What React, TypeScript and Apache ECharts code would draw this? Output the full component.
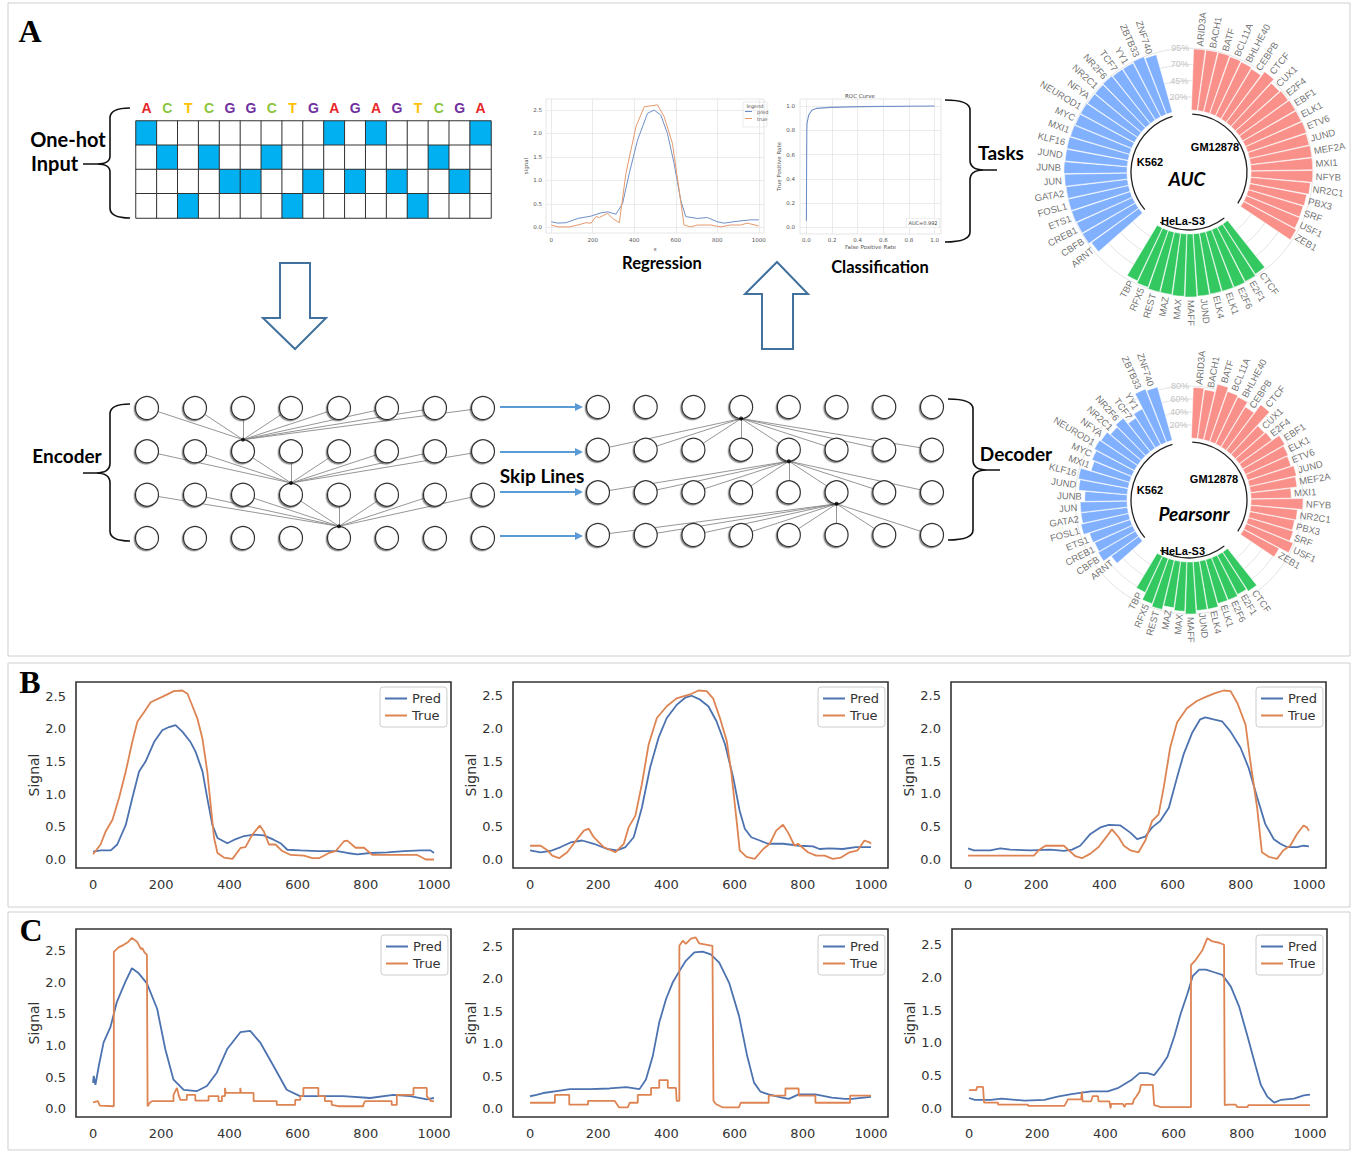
import React, { useEffect, useRef } from "react";
import * as echarts from "echarts";

const W = 1353;
const H = 1152;

// ---------------- Panel A : one-hot input ----------------
const SEQUENCE = ["A", "C", "T", "C", "G", "G", "C", "T", "G", "A", "G", "A", "G", "T", "C", "G", "A"];
const BASES = ["A", "C", "G", "T"];
const BASE_COLORS = { A: "#e8262a", C: "#8cc63f", G: "#7030a0", T: "#ffc000" };

// ---------------- Panel A : mini regression / ROC ----------------
const REG_PRED = [[0, 0.12], [32, 0.09], [72, 0.1], [128, 0.19], [192, 0.24], [240, 0.31], [272, 0.33], [312, 0.28], [344, 0.51], [376, 1.15], [416, 1.86], [464, 2.43], [496, 2.5], [528, 2.39], [560, 2.0], [592, 1.36], [624, 0.58], [648, 0.23], [704, 0.19], [752, 0.21], [800, 0.12], [832, 0.09], [896, 0.13], [960, 0.16], [1000, 0.16]];
const REG_TRUE = [[0, 0.05], [32, 0.01], [88, 0.01], [128, 0.05], [168, 0.1], [192, 0.09], [216, 0.23], [232, 0.21], [272, 0.3], [296, 0.19], [328, 0.1], [360, 1.15], [408, 2.14], [448, 2.57], [480, 2.59], [512, 2.61], [544, 2.36], [584, 1.79], [616, 0.8], [640, 0.05], [672, 0.01], [704, 0.05], [768, 0.05], [816, 0.01], [864, 0.05], [912, 0.05], [944, 0.09], [1000, 0.03]];
const ROC_CURVE = [[0, 0.055], [0.001, 0.4], [0.003, 0.8], [0.005, 0.86], [0.018, 0.926], [0.044, 0.967], [0.083, 0.981], [0.187, 0.989], [0.42, 0.995], [1, 1.0]];
const ROC_TICKS = [0, 0.2, 0.4, 0.6, 0.8, 1.0];

// ---------------- Panel A : circular bar charts ----------------
const GM_NAMES = ["ARID3A", "BACH1", "BATF", "BCL11A", "BHLHE40", "CEBPB", "CTCF", "CUX1", "E2F4", "EBF1", "ELK1", "ETV6", "JUND", "MEF2A", "MXI1", "NFYB", "NR2C1", "PBX3", "SRF", "USF1", "ZEB1"];
const HELA_NAMES = ["CTCF", "E2F1", "E2F6", "ELK1", "ELK4", "JUND", "MAFF", "MAX", "MAZ", "REST", "RFX5", "TBP"];
const K562_NAMES = ["ARNT", "CBFB", "CREB1", "ETS1", "FOSL1", "GATA2", "JUN", "JUNB", "JUND", "KLF16", "MXI1", "MYC", "NEUROD1", "NFYA", "NR2C1", "NR2F6", "TCF7", "YY1", "ZBTB33", "ZNF740"];
const GROUP_NAMES = ["GM12878", "HeLa-S3", "K562"];

const GM_AUC = [94, 94, 94, 93, 92, 90, 98, 91, 93, 94, 94, 95, 94, 95, 95, 95, 92, 89, 88, 89, 92];
const HELA_AUC = [92, 94, 95, 95, 95, 96, 97, 96, 95, 95, 93, 90];
const K562_AUC = [90, 94, 94, 95, 95, 95, 96, 97, 96, 96, 95, 94, 94, 93, 93, 94, 93, 93, 95, 92];
const AUC_TICKS = [20, 45, 70, 95];

const GM_PEARSON = [78, 76, 88, 82, 80, 72, 88, 60, 62, 75, 72, 70, 74, 72, 62, 80, 72, 70, 72, 78, 62];
const HELA_PEARSON = [72, 68, 70, 70, 75, 75, 80, 76, 72, 78, 74, 62];
const K562_PEARSON = [52, 66, 64, 66, 75, 72, 72, 65, 75, 78, 62, 66, 70, 68, 62, 66, 55, 62, 88, 85];
const PEARSON_TICKS = [20, 40, 60, 80];

// ---------------- Panel A : network ----------------
const NET_COLS = 8;
const NET_ROWS = 4;
const ENC_HUBS = [2, 3, 4]; // column of the node in row r+1 that collects row r
const DEC_HUBS = [3, 4, 5]; // column of the node in row r that feeds row r+1

// ---------------- Panels B & C ----------------
const X_TICKS = [0, 200, 400, 600, 800, 1000];
const SIGNAL_TICKS = [0, 0.5, 1, 1.5, 2, 2.5];

const B1_PRED = [[0, 0.12], [22, 0.14], [52, 0.14], [71, 0.23], [96, 0.53], [115, 0.94], [135, 1.35], [154, 1.5], [179, 1.8], [203, 1.98], [223, 2.03], [242, 2.06], [262, 1.96], [286, 1.8], [301, 1.65], [321, 1.35], [335, 0.94], [350, 0.53], [365, 0.33], [394, 0.25], [413, 0.3], [443, 0.36], [472, 0.38], [501, 0.37], [531, 0.3], [550, 0.25], [570, 0.15], [609, 0.14], [658, 0.13], [717, 0.13], [746, 0.1], [775, 0.08], [814, 0.1], [863, 0.11], [912, 0.13], [961, 0.14], [990, 0.14], [1000, 0.1]];
const B1_TRUE = [[0, 0.08], [22, 0.23], [37, 0.43], [57, 0.61], [76, 0.94], [96, 1.35], [115, 1.8], [130, 2.11], [150, 2.26], [169, 2.41], [198, 2.48], [218, 2.53], [237, 2.58], [262, 2.59], [277, 2.54], [291, 2.36], [306, 2.16], [321, 1.85], [335, 1.35], [345, 0.84], [355, 0.33], [365, 0.1], [384, 0.03], [409, 0.01], [433, 0.18], [447, 0.19], [467, 0.38], [489, 0.52], [501, 0.43], [516, 0.23], [535, 0.23], [555, 0.13], [580, 0.07], [619, 0.06], [643, 0.02], [663, 0.02], [692, 0.1], [712, 0.13], [736, 0.28], [746, 0.29], [770, 0.18], [795, 0.18], [819, 0.07], [883, 0.07], [951, 0.07], [976, 0.0], [1000, 0.0]];

const B2_PRED = [[0, 0.14], [31, 0.11], [60, 0.13], [90, 0.19], [119, 0.26], [153, 0.29], [187, 0.24], [226, 0.16], [255, 0.14], [280, 0.19], [304, 0.34], [328, 0.79], [352, 1.4], [377, 1.86], [401, 2.16], [430, 2.36], [455, 2.47], [474, 2.5], [499, 2.44], [523, 2.34], [547, 2.11], [572, 1.76], [596, 1.25], [615, 0.74], [630, 0.47], [649, 0.34], [674, 0.29], [698, 0.24], [742, 0.24], [791, 0.21], [830, 0.2], [849, 0.16], [878, 0.17], [917, 0.16], [956, 0.19], [985, 0.19], [1000, 0.19]];
const B2_TRUE = [[0, 0.21], [31, 0.21], [51, 0.14], [65, 0.06], [85, 0.02], [109, 0.11], [138, 0.31], [158, 0.44], [172, 0.47], [187, 0.34], [216, 0.19], [250, 0.11], [275, 0.24], [289, 0.49], [309, 0.67], [328, 1.15], [348, 1.76], [372, 2.16], [401, 2.34], [430, 2.46], [469, 2.52], [494, 2.58], [518, 2.57], [537, 2.46], [557, 2.16], [577, 1.81], [591, 1.3], [606, 0.59], [615, 0.14], [635, 0.04], [659, 0.01], [684, 0.16], [703, 0.24], [722, 0.44], [742, 0.53], [757, 0.41], [776, 0.21], [786, 0.24], [815, 0.11], [839, 0.06], [864, 0.06], [888, 0.01], [912, 0.03], [937, 0.11], [961, 0.14], [981, 0.29], [996, 0.26], [1000, 0.24]];

const B3_PRED = [[0, 0.17], [17, 0.14], [65, 0.14], [95, 0.17], [124, 0.15], [183, 0.14], [241, 0.15], [281, 0.13], [305, 0.15], [329, 0.21], [359, 0.39], [388, 0.49], [413, 0.53], [447, 0.52], [476, 0.41], [496, 0.31], [520, 0.35], [540, 0.49], [564, 0.59], [589, 0.79], [613, 1.25], [632, 1.6], [657, 1.93], [681, 2.14], [696, 2.17], [720, 2.14], [745, 2.11], [769, 1.96], [799, 1.71], [823, 1.4], [848, 0.95], [872, 0.54], [897, 0.31], [916, 0.24], [935, 0.19], [965, 0.19], [984, 0.21], [1000, 0.2]];
const B3_TRUE = [[0, 0.06], [193, 0.06], [207, 0.14], [227, 0.21], [281, 0.21], [296, 0.14], [315, 0.05], [334, 0.02], [359, 0.09], [383, 0.19], [408, 0.36], [422, 0.46], [442, 0.34], [457, 0.21], [476, 0.14], [500, 0.11], [520, 0.29], [540, 0.59], [559, 0.69], [574, 1.1], [593, 1.71], [613, 2.09], [642, 2.31], [671, 2.42], [701, 2.49], [725, 2.54], [750, 2.58], [770, 2.57], [790, 2.39], [814, 2.06], [828, 1.5], [848, 0.79], [862, 0.11], [882, 0.04], [906, 0.01], [925, 0.14], [945, 0.21], [965, 0.39], [984, 0.52], [994, 0.49], [1000, 0.44]];

const C1_PRED = [[0, 0.41], [2, 0.52], [7, 0.38], [17, 0.68], [31, 1.05], [51, 1.29], [70, 1.69], [95, 2.01], [114, 2.22], [134, 2.14], [158, 1.98], [188, 1.58], [212, 0.94], [236, 0.46], [266, 0.3], [305, 0.28], [334, 0.36], [363, 0.57], [393, 0.94], [432, 1.21], [461, 1.23], [490, 1.05], [529, 0.68], [568, 0.3], [607, 0.2], [656, 0.2], [734, 0.2], [813, 0.17], [881, 0.22], [930, 0.2], [979, 0.15], [1000, 0.17]];
const C1_TRUE = [[0, 0.1], [14, 0.12], [20, 0.05], [61, 0.04], [61, 2.48], [75, 2.55], [90, 2.59], [104, 2.64], [114, 2.7], [129, 2.64], [136, 2.57], [141, 2.52], [144, 2.54], [150, 2.48], [158, 2.43], [160, 0.04], [167, 0.1], [173, 0.12], [236, 0.12], [236, 0.22], [246, 0.33], [251, 0.22], [256, 0.14], [275, 0.14], [275, 0.22], [300, 0.22], [300, 0.13], [339, 0.13], [339, 0.2], [368, 0.2], [368, 0.12], [378, 0.12], [378, 0.2], [387, 0.2], [387, 0.33], [389, 0.25], [432, 0.25], [432, 0.33], [434, 0.25], [471, 0.25], [471, 0.12], [539, 0.12], [539, 0.06], [593, 0.06], [593, 0.14], [608, 0.14], [608, 0.2], [617, 0.2], [617, 0.33], [661, 0.33], [661, 0.2], [680, 0.2], [680, 0.12], [700, 0.12], [700, 0.06], [720, 0.04], [793, 0.04], [793, 0.07], [798, 0.12], [876, 0.12], [876, 0.06], [891, 0.06], [891, 0.22], [940, 0.22], [940, 0.33], [979, 0.33], [979, 0.2], [991, 0.12], [1000, 0.12]];

const C2_PRED = [[0, 0.19], [19, 0.21], [39, 0.24], [78, 0.27], [117, 0.3], [175, 0.3], [233, 0.31], [282, 0.33], [321, 0.3], [340, 0.45], [360, 0.81], [379, 1.33], [399, 1.69], [418, 1.94], [438, 2.12], [457, 2.28], [482, 2.41], [506, 2.42], [530, 2.38], [555, 2.25], [584, 1.94], [613, 1.43], [637, 0.81], [657, 0.4], [676, 0.26], [700, 0.22], [739, 0.17], [759, 0.15], [788, 0.22], [837, 0.22], [885, 0.17], [924, 0.15], [944, 0.15], [1000, 0.18]];
const C2_TRUE = [[0, 0.09], [73, 0.09], [73, 0.21], [115, 0.21], [115, 0.06], [170, 0.06], [170, 0.12], [248, 0.12], [261, 0.02], [287, 0.02], [292, 0.09], [316, 0.09], [316, 0.21], [355, 0.21], [355, 0.32], [379, 0.32], [379, 0.44], [404, 0.44], [404, 0.32], [428, 0.32], [430, 0.12], [438, 0.12], [438, 2.51], [448, 2.59], [457, 2.54], [472, 2.62], [486, 2.64], [496, 2.55], [535, 2.51], [538, 0.12], [545, 0.07], [564, 0.02], [613, 0.02], [618, 0.09], [700, 0.09], [700, 0.2], [749, 0.2], [749, 0.31], [788, 0.31], [788, 0.2], [837, 0.2], [837, 0.09], [939, 0.09], [939, 0.2], [1000, 0.2]];

const C3_PRED = [[0, 0.16], [17, 0.13], [65, 0.13], [95, 0.15], [163, 0.12], [221, 0.13], [260, 0.18], [300, 0.22], [358, 0.26], [407, 0.26], [436, 0.31], [475, 0.43], [500, 0.54], [524, 0.54], [543, 0.51], [563, 0.64], [582, 0.79], [602, 1.1], [621, 1.45], [641, 1.76], [656, 2.02], [675, 2.12], [695, 2.12], [719, 2.08], [743, 2.04], [768, 1.86], [792, 1.56], [817, 1.1], [841, 0.64], [856, 0.36], [875, 0.18], [895, 0.09], [914, 0.13], [953, 0.15], [982, 0.2], [1000, 0.21]];
const C3_TRUE = [[0, 0.28], [21, 0.28], [24, 0.33], [41, 0.33], [44, 0.09], [85, 0.09], [85, 0.06], [173, 0.06], [173, 0.04], [280, 0.04], [290, 0.14], [329, 0.14], [331, 0.26], [333, 0.11], [358, 0.11], [363, 0.19], [378, 0.19], [380, 0.11], [412, 0.11], [415, 0.0], [417, 0.07], [451, 0.07], [456, 0.02], [460, 0.07], [480, 0.07], [483, 0.13], [490, 0.18], [500, 0.26], [504, 0.36], [539, 0.36], [543, 0.05], [563, 0.02], [651, 0.02], [651, 2.19], [665, 2.27], [685, 2.42], [699, 2.6], [714, 2.55], [734, 2.53], [748, 2.5], [750, 0.05], [758, 0.06], [782, 0.06], [787, 0.02], [817, 0.02], [819, 0.05], [1000, 0.05]];

// ---------------- styling / layout ----------------
const BLUE = "#4c72b0";
const ORANGE = "#dd8452";
const GROUP_COLORS = ["#f9918a", "#33c860", "#81b0ff"];
const FONT_MPL = "DejaVu Sans";
const FONT_BOLD = "Lato";
const FONT_SANS = "Liberation Sans";

const LINE_PANELS = [
  { pred: B1_PRED, truth: B1_TRUE, box: [76, 682, 451, 868], yMax: 2.72, legend: [380, 687] },
  { pred: B2_PRED, truth: B2_TRUE, box: [513, 682, 888, 868], yMax: 2.71, legend: [818, 687] },
  { pred: B3_PRED, truth: B3_TRUE, box: [951, 682, 1326, 868], yMax: 2.71, legend: [1256, 687] },
  { pred: C1_PRED, truth: C1_TRUE, box: [76, 929, 451, 1117], yMax: 2.84, legend: [381, 935] },
  { pred: C2_PRED, truth: C2_TRUE, box: [513, 929, 888, 1117], yMax: 2.77, legend: [818, 935] },
  { pred: C3_PRED, truth: C3_TRUE, box: [952, 929, 1327, 1117], yMax: 2.74, legend: [1256, 935] },
];

const GAP_SLOTS = 3;
const START_ANGLE = 88;
const POLARS = [
  { center: [1189, 172], values: [GM_AUC, HELA_AUC, K562_AUC], ticks: AUC_TICKS, title: "AUC", titlePos: [1187, 178], groupPos: [[1215, 147], [1183, 221], [1150, 162]] },
  { center: [1189, 500], values: [GM_PEARSON, HELA_PEARSON, K562_PEARSON], ticks: PEARSON_TICKS, title: "Pearsonr", titlePos: [1194, 513], groupPos: [[1214, 479], [1183, 551], [1150, 490]] },
];

const BRACES = [
  { name: "braceOneHot", d: "M130,108 Q110,108 110,118 L110,156 Q110,164 97,164 L83,164 M97,164 Q110,164 110,172 L110,208 Q110,218 130,218" },
  { name: "braceEncoder", d: "M130,404 Q110,404 110,414 L110,463 Q110,473 96,473 L83,473 M96,473 Q110,473 110,483 L110,531 Q110,541 130,541" },
  { name: "braceTasks", d: "M945,100 Q970,100 970,110 L970,160 Q970,170 984,170 L997,170 M984,170 Q970,170 970,180 L970,232 Q970,242 945,242" },
  { name: "braceDecoder", d: "M948,399 Q973,399 973,409 L973,460 Q973,470 987,470 L1000,470 M987,470 Q973,470 973,480 L973,530 Q973,540 948,540" },
];

let shapesRegistered = false;
function registerShapes() {
  if (shapesRegistered) return;
  shapesRegistered = true;
  BRACES.forEach((b) => {
    echarts.graphic.registerShape(b.name, echarts.graphic.extendPath(b.d, {}));
  });
}

function txt(text: string, x: number, y: number, o: any = {}) {
  return {
    type: "text",
    x,
    y,
    silent: true,
    z: 10,
    style: { text, fill: "#000", fontFamily: FONT_BOLD, fontSize: 19, fontWeight: "bold", align: "center", verticalAlign: "middle", ...o },
  };
}

const intLabel = (v: number) => String(v);

function buildOption() {
  const grid: any[] = [];
  const xAxis: any[] = [];
  const yAxis: any[] = [];
  const series: any[] = [];
  const legend: any[] = [];
  const graphic: any[] = [];
  const visualMap: any[] = [];
  const polar: any[] = [];
  const angleAxis: any[] = [];
  const radiusAxis: any[] = [];

  // ---------- B & C line panels ----------
  LINE_PANELS.forEach((p) => {
    const [l, t, r, b] = p.box;
    grid.push({ left: l, top: t, width: r - l, height: b - t, show: true, borderColor: "#333", borderWidth: 1.6, backgroundColor: "transparent" });
    const gi = grid.length - 1;
    xAxis.push({
      gridIndex: gi, type: "value", min: -50, max: 1050,
      axisLine: { show: false }, axisTick: { show: false, customValues: X_TICKS }, splitLine: { show: false },
      axisLabel: { customValues: X_TICKS, formatter: intLabel, color: "#333", fontSize: 13, margin: 10, fontFamily: FONT_MPL },
    });
    yAxis.push({
      gridIndex: gi, type: "value", min: -0.13, max: p.yMax,
      axisLine: { show: false }, axisTick: { show: false, customValues: SIGNAL_TICKS }, splitLine: { show: false },
      axisLabel: { customValues: SIGNAL_TICKS, formatter: (v: number) => v.toFixed(1), color: "#333", fontSize: 13, margin: 10, fontFamily: FONT_MPL },
      name: "Signal", nameLocation: "middle", nameGap: 33,
      nameTextStyle: { fontSize: 14, color: "#333", fontFamily: FONT_MPL },
    });
    series.push({ type: "line", name: "Pred", xAxisIndex: gi, yAxisIndex: gi, data: p.pred, symbol: "none", lineStyle: { color: BLUE, width: 1.8 }, itemStyle: { color: BLUE }, silent: true });
    series.push({ type: "line", name: "True", xAxisIndex: gi, yAxisIndex: gi, data: p.truth, symbol: "none", lineStyle: { color: ORANGE, width: 1.8 }, itemStyle: { color: ORANGE }, silent: true });
    legend.push({
      left: p.legend[0], top: p.legend[1], orient: "vertical", data: ["Pred", "True"],
      icon: "rect", itemWidth: 22, itemHeight: 2, itemGap: 4, padding: [5, 6, 5, 5],
      borderColor: "#cccccc", borderWidth: 1, borderRadius: 3, backgroundColor: "#fff",
      textStyle: { fontSize: 13, color: "#333", fontFamily: FONT_MPL, lineHeight: 13 }, selectedMode: false,
    });
  });

  // ---------- mini regression ----------
  grid.push({ left: 546, top: 99, width: 218, height: 134, show: true, borderColor: "#e0e0e0", borderWidth: 0.8, backgroundColor: "transparent" });
  let gi = grid.length - 1;
  const tinyLabel = { color: "#555", fontSize: 5.5, fontFamily: FONT_MPL };
  xAxis.push({
    gridIndex: gi, type: "value", min: -25, max: 1025, axisLine: { show: false },
    axisTick: { show: false, customValues: X_TICKS },
    splitLine: { show: true, lineStyle: { color: "#e6e6e6", width: 0.8 } },
    axisLabel: { customValues: X_TICKS, formatter: intLabel, margin: 4, ...tinyLabel },
    name: "x", nameLocation: "middle", nameGap: 13, nameTextStyle: tinyLabel,
  });
  yAxis.push({
    gridIndex: gi, type: "value", min: -0.12, max: 2.735, axisLine: { show: false },
    axisTick: { show: false, customValues: SIGNAL_TICKS },
    splitLine: { show: true, lineStyle: { color: "#e6e6e6", width: 0.8 } },
    axisLabel: { customValues: SIGNAL_TICKS, formatter: (v: number) => v.toFixed(1), margin: 4, ...tinyLabel },
    name: "signal", nameLocation: "middle", nameGap: 13, nameTextStyle: tinyLabel,
  });
  series.push({ type: "line", name: "pred", xAxisIndex: gi, yAxisIndex: gi, data: REG_PRED, symbol: "none", lineStyle: { color: "#6f8fc7", width: 1 }, itemStyle: { color: "#6f8fc7" }, silent: true });
  series.push({ type: "line", name: "true", xAxisIndex: gi, yAxisIndex: gi, data: REG_TRUE, symbol: "none", lineStyle: { color: "#e59a6c", width: 1 }, itemStyle: { color: "#e59a6c" }, silent: true });
  legend.push({
    left: 745, top: 109, orient: "vertical", data: ["pred", "true"], icon: "rect", itemWidth: 7, itemHeight: 1, itemGap: 2,
    padding: 0, textStyle: { fontSize: 5, color: "#555", fontFamily: FONT_MPL }, selectedMode: false,
  });
  graphic.push({ type: "rect", shape: { x: 743, y: 102, width: 24, height: 25, r: 1 }, style: { fill: "#fff", stroke: "#dddddd", lineWidth: 0.6 }, z: -1, silent: true });
  graphic.push(txt("legend", 755, 105.5, { fontSize: 5, fontWeight: "normal", fill: "#555", fontFamily: FONT_MPL }));

  // ---------- ROC ----------
  grid.push({ left: 800, top: 99, width: 141, height: 135, show: true, borderColor: "#e0e0e0", borderWidth: 0.8, backgroundColor: "transparent" });
  gi = grid.length - 1;
  xAxis.push({
    gridIndex: gi, type: "value", min: -0.05, max: 1.05, axisLine: { show: false },
    axisTick: { show: false, customValues: ROC_TICKS },
    splitLine: { show: true, lineStyle: { color: "#e6e6e6", width: 0.8 } },
    axisLabel: { customValues: ROC_TICKS, formatter: (v: number) => v.toFixed(1), margin: 3, ...tinyLabel },
    name: "False Positive Rate", nameLocation: "middle", nameGap: 8, nameTextStyle: tinyLabel,
  });
  yAxis.push({
    gridIndex: gi, type: "value", min: -0.055, max: 1.058, axisLine: { show: false },
    axisTick: { show: false, customValues: ROC_TICKS },
    splitLine: { show: true, lineStyle: { color: "#e6e6e6", width: 0.8 } },
    axisLabel: { customValues: ROC_TICKS, formatter: (v: number) => v.toFixed(1), margin: 5, ...tinyLabel },
    name: "True Positive Rate", nameLocation: "middle", nameGap: 15, nameTextStyle: tinyLabel,
  });
  series.push({ type: "line", name: "roc", xAxisIndex: gi, yAxisIndex: gi, data: ROC_CURVE, symbol: "none", lineStyle: { color: "#6f8fc7", width: 1.1 }, silent: true });
  graphic.push(txt("ROC Curve", 860, 95.5, { fontSize: 5.5, fontWeight: "normal", fill: "#444", fontFamily: FONT_MPL }));
  graphic.push({
    type: "text", x: 923, y: 223, silent: true, z: 10,
    style: { text: "AUC=0.992", fontSize: 5, fill: "#444", fontFamily: FONT_MPL, align: "center", verticalAlign: "middle", backgroundColor: "#fff", borderColor: "#dddddd", borderWidth: 0.6, padding: [2, 2] },
  });

  // ---------- one-hot heatmap ----------
  grid.push({ left: 136, top: 121, width: 355, height: 97 });
  gi = grid.length - 1;
  const rich: any = {};
  Object.keys(BASE_COLORS).forEach((k) => (rich[k] = { color: (BASE_COLORS as any)[k], fontSize: 14, fontWeight: "bold", fontFamily: FONT_SANS }));
  xAxis.push({
    gridIndex: gi, type: "category", data: SEQUENCE, position: "top",
    axisLine: { show: false }, axisTick: { show: false }, splitLine: { show: false },
    axisLabel: { interval: 0, margin: 6, formatter: (v: string) => `{${v}|${v}}`, rich },
  });
  yAxis.push({ gridIndex: gi, type: "category", data: BASES, inverse: true, show: false });
  const hmData: any[] = [];
  SEQUENCE.forEach((b, c) => BASES.forEach((base, r) => hmData.push([c, r, b === base ? 1 : 0])));
  series.push({ type: "heatmap", xAxisIndex: gi, yAxisIndex: gi, data: hmData, itemStyle: { borderColor: "#333", borderWidth: 1 }, emphasis: { disabled: true }, silent: true });
  visualMap.push({ type: "piecewise", show: false, seriesIndex: series.length - 1, dimension: 2, pieces: [{ value: 1, color: "#00b0f0" }, { value: 0, color: "#ffffff" }] });

  // ---------- networks ----------
  const HUB_OFF = 0.27;
  const nets = [
    { box: [147, 408, 483, 538], enc: true },
    { box: [598, 407, 932, 535], enc: false },
  ];
  nets.forEach((n) => {
    grid.push({ left: n.box[0], top: n.box[1], width: n.box[2] - n.box[0], height: n.box[3] - n.box[1] });
    const g = grid.length - 1;
    xAxis.push({ gridIndex: g, type: "value", min: 0, max: NET_COLS - 1, show: false });
    yAxis.push({ gridIndex: g, type: "value", min: 0, max: NET_ROWS - 1, inverse: true, show: false });
    const nodes: any[] = [];
    for (let r = 0; r < NET_ROWS; r++) for (let c = 0; c < NET_COLS; c++) nodes.push([c, r]);
    const edges: any[] = [];
    const hubs: any[] = [];
    for (let r = 0; r < NET_ROWS - 1; r++) {
      if (n.enc) {
        const hub = [ENC_HUBS[r], r + 1 - HUB_OFF];
        hubs.push(hub);
        for (let c = 0; c < NET_COLS; c++) edges.push({ coords: [[c, r], hub] });
      } else {
        const hub = [DEC_HUBS[r], r + HUB_OFF];
        hubs.push(hub);
        for (let c = 0; c < NET_COLS; c++) edges.push({ coords: [hub, [c, r + 1]] });
      }
    }
    series.push({ type: "lines", coordinateSystem: "cartesian2d", xAxisIndex: g, yAxisIndex: g, data: edges, lineStyle: { color: "#8a8a8a", width: 0.9, opacity: 1 }, z: 2, silent: true });
    series.push({
      type: "scatter", xAxisIndex: g, yAxisIndex: g, data: nodes, symbolSize: 23, z: 4, silent: true,
      itemStyle: { color: "#ffffff", opacity: 1, borderColor: "#333", borderWidth: 1.2, shadowBlur: 1.5, shadowOffsetX: -1.2, shadowOffsetY: 1.2, shadowColor: "rgba(0,0,0,0.45)" },
    });
    series.push({ type: "scatter", xAxisIndex: g, yAxisIndex: g, data: hubs, symbolSize: 4, z: 5, silent: true, itemStyle: { color: "#000" } });
  });

  // ---------- polar bars ----------
  const groups = [GM_NAMES, HELA_NAMES, K562_NAMES];
  POLARS.forEach((P, pi) => {
    const slots: any[] = [];
    const spans: number[][] = [];
    groups.forEach((names, g) => {
      const s0 = slots.length;
      names.forEach((nm, k) => slots.push({ name: nm, v: P.values[g][k], g }));
      spans.push([s0, slots.length - 1]);
      for (let j = 0; j < GAP_SLOTS; j++) slots.push(null);
    });
    const N = slots.length;
    const step = 360 / N;
    polar.push({ center: P.center, radius: [62, 127] });
    angleAxis.push({
      polarIndex: pi, type: "category", data: slots.map((_, i) => String(i)), startAngle: START_ANGLE, clockwise: true, boundaryGap: true,
      axisLine: { show: false }, axisTick: { show: false }, axisLabel: { show: false }, splitLine: { show: false },
    });
    radiusAxis.push({
      polarIndex: pi, type: "value", min: 0, max: 100,
      axisLine: { show: false }, axisTick: { show: false, customValues: P.ticks },
      axisLabel: { customValues: P.ticks, formatter: "{value}%", color: "#c4c4c4", fontSize: 9, margin: 4, fontFamily: FONT_SANS },
      splitLine: { show: true, lineStyle: { color: "#e4e4e4", width: 1 } },
      z: 1,
    });
    series.push({
      type: "bar", coordinateSystem: "polar", polarIndex: pi, barCategoryGap: "6%", z: 3, silent: true,
      data: slots.map((s) => (s ? { value: s.v, itemStyle: { color: GROUP_COLORS[s.g] } } : "-")),
      itemStyle: { borderColor: "#fff", borderWidth: 0.5 },
    });
    const labelData: any[] = [];
    slots.forEach((s, i) => {
      if (!s) return;
      let a = START_ANGLE - (i + 0.5) * step;
      a = ((a % 360) + 360) % 360;
      const right = a < 90 || a > 270;
      const rot = right ? (a > 180 ? a - 360 : a) : a - 180;
      labelData.push({
        value: [s.v, i], name: s.name,
        label: { rotate: rot, align: right ? "left" : "right", padding: right ? [0, 0, 0, 3] : [0, 3, 0, 0] },
      });
    });
    series.push({
      type: "scatter", coordinateSystem: "polar", polarIndex: pi, symbolSize: 0, z: 4, silent: true, clip: false,
      data: labelData,
      label: { show: true, position: [0, 0], verticalAlign: "middle", formatter: (d: any) => d.name, color: "#4d4d4d", fontSize: 9.5, fontFamily: FONT_SANS },
    });
    // group arcs
    spans.forEach(([s0, s1]) => {
      const a0 = START_ANGLE - (s0 + 0.2) * step;
      const a1 = START_ANGLE - (s1 + 0.8) * step;
      graphic.push({
        type: "arc", silent: true, z: 5,
        shape: { cx: P.center[0], cy: P.center[1], r: 58, startAngle: (-a0 * Math.PI) / 180, endAngle: (-a1 * Math.PI) / 180, clockwise: true },
        style: { stroke: "#222", lineWidth: 1.3, fill: "none" },
      });
    });
    P.groupPos.forEach((gp, g) => graphic.push(txt(GROUP_NAMES[g], gp[0], gp[1], { fontSize: 11, fontFamily: FONT_SANS })));
    graphic.push(txt(P.title, P.titlePos[0], P.titlePos[1], { fontSize: 19, fontStyle: "italic" }));
  });

  // ---------- decorations ----------
  const frame = { fill: "none", stroke: "#cfcfcf", lineWidth: 1 };
  graphic.push({ type: "rect", shape: { x: 8, y: 3, width: 1342, height: 653 }, style: frame, silent: true, z: -5 });
  graphic.push({ type: "rect", shape: { x: 8, y: 663, width: 1342, height: 244 }, style: frame, silent: true, z: -5 });
  graphic.push({ type: "rect", shape: { x: 8, y: 912, width: 1342, height: 238 }, style: frame, silent: true, z: -5 });

  const serif = { fontFamily: "Liberation Serif", fontSize: 32, fontWeight: "bold" };
  graphic.push(txt("A", 30, 31, serif));
  graphic.push(txt("B", 30, 682, serif));
  graphic.push(txt("C", 31, 930, serif));

  graphic.push(txt("One-hot", 68, 139, { fontSize: 20 }));
  graphic.push(txt("Input", 31, 163, { fontSize: 20, align: "left" }));
  graphic.push(txt("Encoder", 67, 455, { fontSize: 19 }));
  graphic.push(txt("Decoder", 1016, 453, { fontSize: 19 }));
  graphic.push(txt("Tasks", 1001, 152, { fontSize: 19 }));
  graphic.push(txt("Skip Lines", 542, 475, { fontSize: 19 }));
  graphic.push(txt("Regression", 662, 263, { fontSize: 16.5 }));
  graphic.push(txt("Classification", 880, 267, { fontSize: 16.5 }));

  BRACES.forEach((b) => graphic.push({ type: b.name, silent: true, z: 5, style: { stroke: "#111", lineWidth: 1.6, fill: "none" } }));

  const arrowStyle = { fill: "#fff", stroke: "#41719c", lineWidth: 2 };
  graphic.push({ type: "polygon", silent: true, shape: { points: [[280, 263], [310, 263], [310, 318], [326, 318], [295, 349], [263, 318], [280, 318]] }, style: arrowStyle });
  graphic.push({ type: "polygon", silent: true, shape: { points: [[777, 262], [808, 294], [793, 294], [793, 349], [762, 349], [762, 294], [745, 294]] }, style: arrowStyle });

  [407, 452, 492, 536].forEach((y) => {
    graphic.push({ type: "line", silent: true, shape: { x1: 500, y1: y, x2: 576, y2: y }, style: { stroke: "#5b9bd5", lineWidth: 1.8 } });
    graphic.push({ type: "polygon", silent: true, shape: { points: [[575, y - 4], [583, y], [575, y + 4]] }, style: { fill: "#5b9bd5" } });
  });

  return {
    animation: false,
    backgroundColor: "#fff",
    grid, xAxis, yAxis, series, legend, graphic, visualMap, polar, angleAxis, radiusAxis,
  };
}

export default function App() {
  const ref = useRef<HTMLDivElement>(null);
  useEffect(() => {
    document.body.style.margin = "0";
    registerShapes();
    const chart = echarts.init(ref.current!, null, { renderer: "svg", width: W, height: H });
    chart.setOption(buildOption() as any);
    return () => chart.dispose();
  }, []);
  return <div ref={ref} style={{ width: W, height: H, background: "#fff" }} />;
}
